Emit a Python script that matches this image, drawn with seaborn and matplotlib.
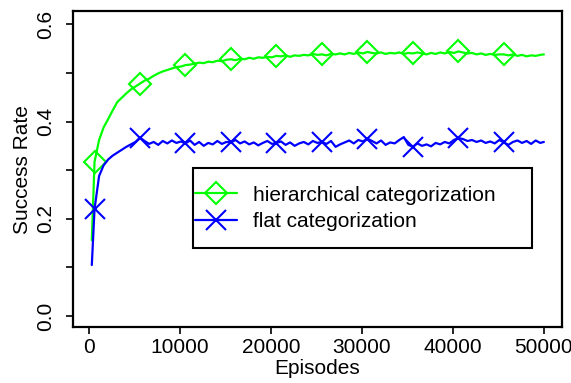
import matplotlib
matplotlib.use("Agg")
import matplotlib.pyplot as plt
from matplotlib.patches import Rectangle
import seaborn as sns
import pandas as pd

episodes = [300] + list(range(600, 50000, 500)) + [50000]

hier_rate = [
    0.156, 0.317, 0.362, 0.388, 0.405, 0.423, 0.440, 0.449, 0.458, 0.466,
    0.472, 0.478, 0.484, 0.488, 0.494, 0.499, 0.503, 0.506, 0.509, 0.512,
    0.513, 0.516, 0.517, 0.519, 0.521, 0.520, 0.523, 0.522, 0.525, 0.524,
    0.527, 0.528, 0.526, 0.529, 0.528, 0.531, 0.529, 0.532, 0.531, 0.533,
    0.532, 0.535, 0.534, 0.536, 0.533, 0.536, 0.535, 0.537, 0.536, 0.539,
    0.537, 0.538, 0.536, 0.539, 0.538, 0.540, 0.538, 0.541, 0.539, 0.542,
    0.540, 0.543, 0.541, 0.540, 0.542, 0.539, 0.541, 0.540, 0.542, 0.539,
    0.541, 0.540, 0.542, 0.540, 0.538, 0.541, 0.539, 0.542, 0.540, 0.543,
    0.541, 0.544, 0.542, 0.540, 0.541, 0.538, 0.540, 0.537, 0.539, 0.537,
    0.538, 0.538, 0.536, 0.538, 0.535, 0.537, 0.534, 0.536, 0.535, 0.537,
    0.538,
]

flat_rate = [
    0.105, 0.220, 0.288, 0.310, 0.322, 0.330, 0.336, 0.342, 0.348, 0.353,
    0.358, 0.367, 0.360, 0.354, 0.358, 0.352, 0.360, 0.355, 0.361, 0.356,
    0.359, 0.355, 0.361, 0.352, 0.358, 0.350, 0.356, 0.353, 0.360, 0.354,
    0.358, 0.357, 0.362, 0.355, 0.359, 0.353, 0.357, 0.351, 0.356, 0.360,
    0.354, 0.356, 0.359, 0.352, 0.357, 0.350, 0.355, 0.358, 0.353, 0.360,
    0.356, 0.358, 0.354, 0.360, 0.348, 0.353, 0.357, 0.361, 0.355, 0.362,
    0.359, 0.365, 0.360, 0.355, 0.361, 0.352, 0.357, 0.355, 0.362, 0.368,
    0.352, 0.348, 0.355, 0.350, 0.353, 0.349, 0.356, 0.353, 0.358, 0.355,
    0.362, 0.366, 0.364, 0.360, 0.362, 0.358, 0.361, 0.356, 0.359, 0.355,
    0.362, 0.357, 0.352, 0.358, 0.361, 0.356, 0.360, 0.354, 0.361, 0.356,
    0.358,
]

series_labels = ["hierarchical categorization", "flat categorization"]
y_major = [0.0, 0.2, 0.4, 0.6]
y_minor = [0.1, 0.3, 0.5]
x_ticks = [0, 10000, 20000, 30000, 40000, 50000]

sns.set_style("ticks")
plt.rcParams["font.family"] = ["Liberation Sans", "DejaVu Sans"]
for k in ["text.color", "axes.labelcolor", "xtick.color", "ytick.color",
          "xtick.labelcolor", "ytick.labelcolor"]:
    plt.rcParams[k] = "black"
FS = 15

df_h = pd.DataFrame({"Episodes": episodes, "rate": hier_rate})
df_f = pd.DataFrame({"Episodes": episodes, "rate": flat_rate})

fig = plt.figure(figsize=(5.71, 3.83), dpi=100)
ax = fig.add_axes([0.128, 0.146, 0.856, 0.825])

sns.lineplot(data=df_h, x="Episodes", y="rate", ax=ax, color="#00ff00",
             linewidth=1.6, marker="D", markersize=11.5, markevery=(1, 10),
             markerfacecolor="none", markeredgecolor="#00ff00",
             markeredgewidth=1.5, label=series_labels[0], zorder=3)
sns.lineplot(data=df_f, x="Episodes", y="rate", ax=ax, color="#0000ff",
             linewidth=1.6, marker="x", markersize=15, markevery=(1, 10),
             markeredgecolor="#0000ff", markeredgewidth=1.5,
             label=series_labels[1], zorder=3)

ax.set_xlim(-1758, 51978)
ax.set_ylim(-0.0226, 0.627)
ax.set_xticks(x_ticks)
ax.set_xticklabels([str(v) for v in x_ticks], fontsize=FS)
ax.set_yticks(y_major)
ax.set_yticklabels([f"{v:.1f}" for v in y_major], fontsize=FS,
                   rotation=90, va="center")
ax.set_yticks(y_minor, minor=True)
ax.tick_params(axis="both", which="both", length=5, width=1.2,
               color="black", direction="out")
ax.tick_params(axis="y", which="major", pad=8)
ax.tick_params(axis="x", which="major", pad=3)
for sp in ax.spines.values():
    sp.set_visible(True)
    sp.set_linewidth(1.6)
    sp.set_color("black")

ax.set_xlabel("Episodes", fontsize=FS, labelpad=1, color="black")
ax.set_ylabel("Success Rate", fontsize=FS, labelpad=3, color="black")

# legend box
ax.add_patch(Rectangle((0.245, 0.25), 0.694, 0.253, transform=ax.transAxes,
                       facecolor="white", edgecolor="black", linewidth=1.5,
                       zorder=4))
leg = ax.legend(loc="center left", bbox_to_anchor=(0.2495, 0.3756),
                frameon=False, fontsize=FS, borderpad=0, handlelength=2.0,
                handletextpad=0.8, labelspacing=0.37, borderaxespad=0)
leg.set_zorder(5)
for t in leg.get_texts():
    t.set_color("black")

fig.savefig("out.png", dpi=100)
